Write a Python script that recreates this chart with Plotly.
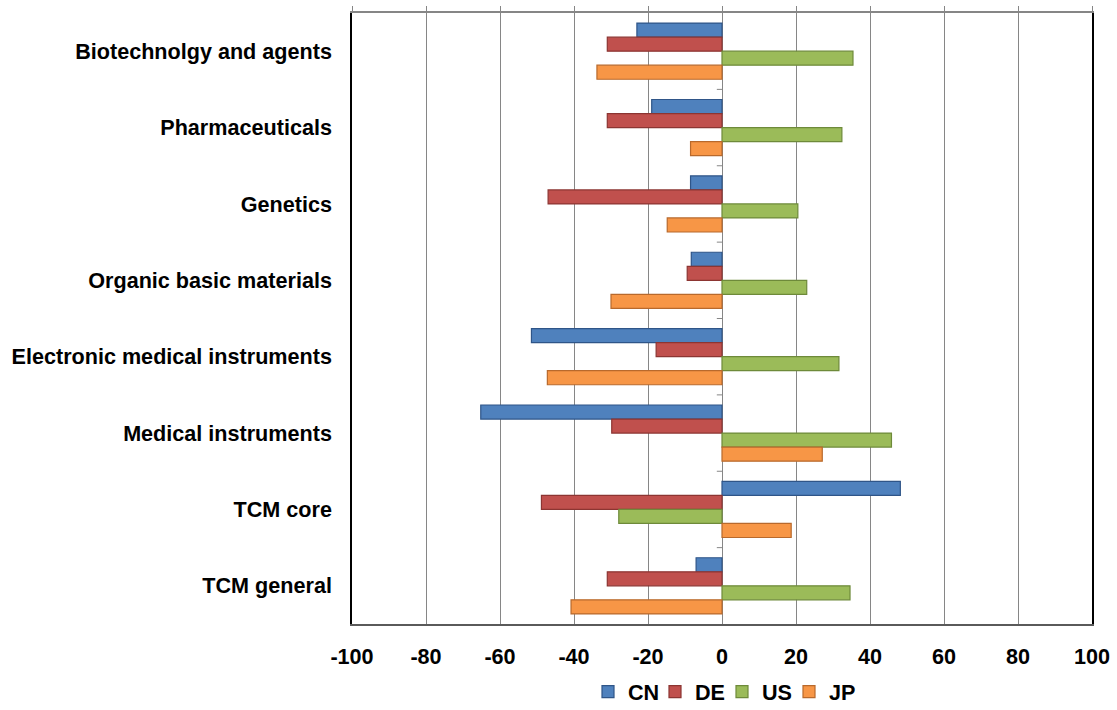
import plotly.graph_objects as go

categories = ["Biotechnolgy and agents", "Pharmaceuticals", "Genetics",
              "Organic basic materials", "Electronic medical instruments",
              "Medical instruments", "TCM core", "TCM general"]
cn = [-23, -19, -8.5, -8.3, -51.5, -65.2, 48.2, -7]
de = [-31, -31, -47, -9.4, -17.8, -29.8, -48.8, -31]
us = [35.4, 32.4, 20.5, 22.9, 31.6, 45.8, -27.9, 34.6]
jp = [-33.8, -8.5, -14.8, -30, -47.2, 27.1, 18.7, -40.8]
series_names = ["CN", "DE", "US", "JP"]
x_ticks = [-100, -80, -60, -40, -20, 0, 20, 40, 60, 80, 100]

fills = ["#4F81BD", "#C0504D", "#9BBB59", "#F79646"]
edges = ["#2F5588", "#8C3532", "#6E8A3A", "#B8692C"]
FONT = "Liberation Sans, Arial, sans-serif"
FS = 21.6

W, H = 1117, 710
ML, MR, MT, MB = 352, 25, 13, 86

fig = go.Figure()
for name, vals, fc, ec in zip(series_names, [cn, de, us, jp], fills, edges):
    fig.add_trace(go.Bar(
        y=categories, x=vals, name=name, orientation="h",
        marker=dict(color=fc, line=dict(color=ec, width=1.2)),
    ))
# empty trace to make the top tick axis render
fig.add_trace(go.Scatter(x=[None], y=[None], xaxis="x2", yaxis="y",
                         showlegend=False, hoverinfo="skip"))

# small category tick marks on the zero axis between categories
shapes = []
for i in range(len(categories) - 1):
    shapes.append(dict(type="line", xref="x", yref="y",
                       x0=-1.4, x1=0, y0=i + 0.5, y1=i + 0.5,
                       line=dict(color="#868686", width=1)))
fig.update_layout(shapes=shapes)

fig.update_layout(
    width=W, height=H,
    margin=dict(l=ML, r=MR, t=MT, b=MB, pad=0, autoexpand=False),
    paper_bgcolor="white", plot_bgcolor="white",
    barmode="group", bargap=0.265, bargroupgap=0,
    font=dict(family=FONT, size=FS, color="black", weight="bold"),
    showlegend=True,
    legend=dict(orientation="h", xref="paper", x=0.5, xanchor="center",
                yref="container", y=(H - 692) / H, yanchor="middle",
                font=dict(family=FONT, size=FS, color="black", weight="bold"),
                itemwidth=30, entrywidth=22, entrywidthmode="pixels",
                traceorder="normal", tracegroupgap=0),
    xaxis=dict(range=[-100, 100], tickvals=x_ticks, ticktext=[str(v) for v in x_ticks],
               automargin=False,
               showgrid=True, gridcolor="#868686", gridwidth=1,
               zeroline=True, zerolinecolor="#868686", zerolinewidth=1,
               showline=True, linecolor="#5A5A5A", linewidth=1.5, mirror=False,
               ticks="", ticklabelstandoff=12, anchor="y",
               tickfont=dict(family=FONT, size=FS, color="black", weight="bold")),
    xaxis2=dict(range=[-100, 100], tickvals=x_ticks, overlaying="x", side="top",
                anchor="y", automargin=False,
                showticklabels=False, showgrid=False, zeroline=False,
                ticks="outside", ticklen=5, tickcolor="#868686", tickwidth=1,
                showline=True, linecolor="#868686", linewidth=1.5),
    yaxis=dict(autorange="reversed", showgrid=False, zeroline=False,
               automargin=False,
               showline=True, linecolor="black", linewidth=1.5, mirror=True,
               ticks="", ticklabelstandoff=14,
               tickfont=dict(family=FONT, size=FS, color="black", weight="bold")),
)

fig.write_html("out.html", config={"displayModeBar": False},
               post_script="document.body.style.margin='0';")
